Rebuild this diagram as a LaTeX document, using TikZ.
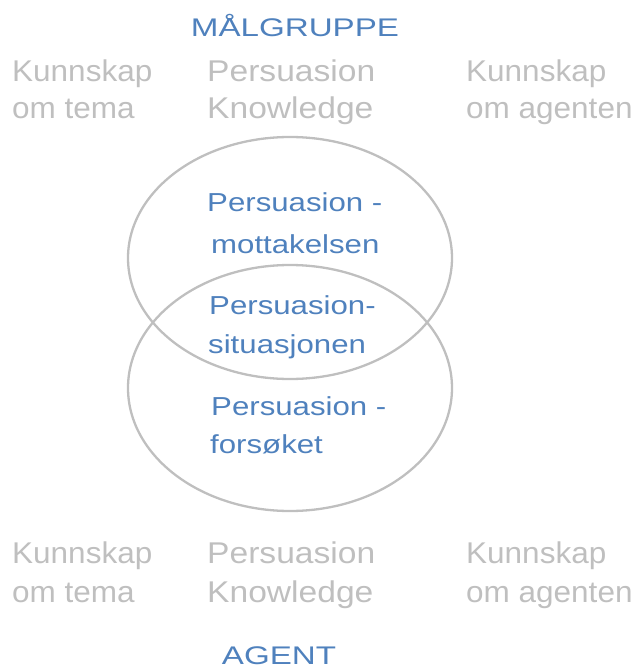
\documentclass[tikz,border=0pt]{standalone}
\usepackage{fontspec}
\usetikzlibrary{shapes.geometric}
\setmainfont{Liberation Sans}
\newfontfamily\bluefont[FakeStretch=1.2]{Liberation Sans}
\newfontfamily\titlefont[FakeStretch=1.3]{Liberation Sans}
\newfontfamily\grayfont[FakeStretch=1.05]{Liberation Sans}
\newfontfamily\midgrayfont[FakeStretch=1.12]{Liberation Sans}
\definecolor{txtblue}{HTML}{4F81BD}
\definecolor{ringgray}{HTML}{BFBFBF}
\begin{document}
\begin{tikzpicture}[x=1pt,y=-1pt,
  graytxt/.style={anchor=base west, inner sep=0pt, text=ringgray, font=\grayfont\fontsize{30}{30}\selectfont},
  midtxt/.style={anchor=base west, inner sep=0pt, text=ringgray, font=\midgrayfont\fontsize{30}{30}\selectfont},
  bluetxt/.style={anchor=base west, inner sep=0pt, text=txtblue, font=\bluefont\fontsize{26}{26}\selectfont},
  titletxt/.style={anchor=base, inner sep=0pt, text=txtblue, font=\titlefont\fontsize{25.5}{25.5}\selectfont},
  ring/.style={draw=ringgray, line width=2.3pt, ellipse, inner sep=0pt}]
\useasboundingbox (0,0) rectangle (643,671);
% circles
\node[ring, minimum width=324pt, minimum height=242pt] (upper) at (290,258) {};
\node[ring, minimum width=324pt, minimum height=246pt] (lower) at (290,388) {};
% titles
\node[titletxt] (maal) at (295,37) {MÅLGRUPPE};
\node[titletxt] (agent) at (279,664) {AGENT};
% top labels
\node[graytxt] (tA1) at (12,82) {Kunnskap};
\node[graytxt] (tA2) at (12,119) {om tema};
\node[midtxt] (tB1) at (207,82) {Persuasion};
\node[midtxt] (tB2) at (207,119) {Knowledge};
\node[graytxt] (tC1) at (466,82) {Kunnskap};
\node[graytxt] (tC2) at (466,119) {om agenten};
% bottom labels
\node[graytxt] (bA1) at (12,563) {Kunnskap};
\node[graytxt] (bA2) at (12,602) {om tema};
\node[midtxt] (bB1) at (207,563) {Persuasion};
\node[midtxt] (bB2) at (207,602) {Knowledge};
\node[graytxt] (bC1) at (466,563) {Kunnskap};
\node[graytxt] (bC2) at (466,602) {om agenten};
% inner labels
\node[bluetxt] (m1) at (207,211) {Persuasion -};
\node[bluetxt] (m2) at (211,253) {mottakelsen};
\node[bluetxt] (s1) at (209,314) {Persuasion-};
\node[bluetxt] (s2) at (208,353) {situasjonen};
\node[bluetxt] (f1) at (211,415) {Persuasion -};
\node[bluetxt] (f2) at (210,453) {forsøket};
\end{tikzpicture}
\end{document}
